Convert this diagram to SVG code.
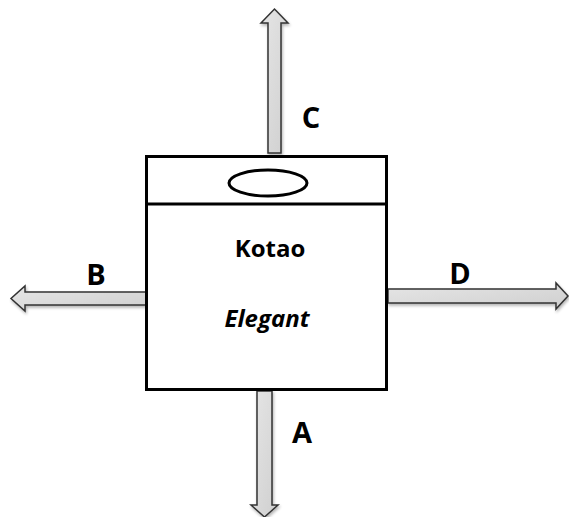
<svg xmlns="http://www.w3.org/2000/svg" width="569" height="517" viewBox="0 0 569 517">
<style>
.arrow{fill:url(#g);stroke:#333;stroke-width:1.5;stroke-linejoin:miter}
.lbl{font-family:"Open Sans","Liberation Sans",sans-serif;font-weight:bold;font-size:24px;fill:#000}
.big{font-size:29px}
.box{fill:#fff;stroke:#000;stroke-width:3}
</style>
<defs>
<linearGradient id="g" x1="0" y1="0" x2="1" y2="1">
<stop offset="0" stop-color="#e6e6e6"/>
<stop offset="1" stop-color="#cfcfcf"/>
</linearGradient>
<filter id="sh" x="-20%" y="-20%" width="140%" height="140%">
<feGaussianBlur in="SourceAlpha" stdDeviation="1.5"/>
<feOffset dx="1" dy="2"/>
<feComponentTransfer><feFuncA type="linear" slope="0.3"/></feComponentTransfer>
<feMerge><feMergeNode/><feMergeNode in="SourceGraphic"/></feMerge>
</filter>
</defs>
<g id="connectors" filter="url(#sh)">
<path id="arrowC" class="arrow" d="M268,153 L268,23 L261,23 L274.5,9 L288,23 L281,23 L281,153 Z"/>
<path id="arrowA" class="arrow" d="M257,391 L257,505 L251,505 L264.5,517 L278,505 L272,505 L272,391 Z"/>
<path id="arrowB" class="arrow" d="M146,292 L25,292 L25,286 L11,298.5 L25,311 L25,305 L146,305 Z"/>
<path id="arrowD" class="arrow" d="M388,289 L556,289 L556,283 L568,296 L556,309 L556,303 L388,303 Z"/>
</g>
<g id="box">
<rect class="box" x="146.5" y="156.5" width="240" height="233"/>
<line x1="146.5" y1="204" x2="386.5" y2="204" stroke="#000" stroke-width="3"/>
<ellipse cx="268" cy="183" rx="39" ry="13" fill="#fff" stroke="#000" stroke-width="3"/>
<text class="lbl" x="270" y="257" text-anchor="middle">Kotao</text>
<text class="lbl" x="267" y="327" text-anchor="middle" font-style="italic" font-size="25">Elegant</text>
</g>
<g id="labels">
<text class="lbl big" x="311" y="128" text-anchor="middle">C</text>
<text class="lbl big" x="96" y="285" text-anchor="middle">B</text>
<text class="lbl big" x="460" y="284" text-anchor="middle">D</text>
<text class="lbl big" x="302" y="443" text-anchor="middle">A</text>
</g>
</svg>
